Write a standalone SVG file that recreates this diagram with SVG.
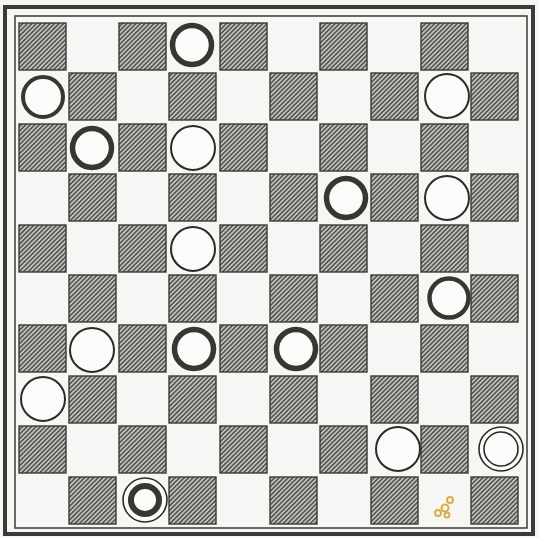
<svg xmlns="http://www.w3.org/2000/svg" width="539" height="538" viewBox="0 0 539 538">
<defs>
<pattern id="hatch" patternUnits="userSpaceOnUse" width="3.2" height="3.2" patternTransform="rotate(45)">
<rect width="3.2" height="3.2" fill="#c2c3bd"/>
<line x1="0.8" y1="0" x2="0.8" y2="3.2" stroke="#464643" stroke-width="1.4"/>
</pattern>
</defs>
<style>
.sq{fill:url(#hatch);stroke:#3a3a36;stroke-width:1.4}
.blk{fill:#fbfbf9;stroke:#363633;stroke-width:5.5}
.wht{fill:#fbfbf9;stroke:#2b2b28;stroke-width:2}
.thin{fill:none;stroke:#2b2b28;stroke-width:1.6}
</style>
<rect width="539" height="538" fill="#f6f7f5"/>
<g id="frame">
<rect x="5" y="7" width="528" height="527" fill="none" stroke="#3a3a36" stroke-width="4"/>
<rect x="15" y="16" width="512" height="512" fill="none" stroke="#3a3a36" stroke-width="1.5"/>
</g>
<g id="squares">
<rect class="sq" x="19" y="23" width="47" height="47"/><rect class="sq" x="119" y="23" width="47" height="47"/><rect class="sq" x="220" y="23" width="47" height="47"/><rect class="sq" x="320" y="23" width="47" height="47"/><rect class="sq" x="421" y="23" width="47" height="47"/>
<rect class="sq" x="69" y="73" width="47" height="47"/><rect class="sq" x="169" y="73" width="47" height="47"/><rect class="sq" x="270" y="73" width="47" height="47"/><rect class="sq" x="371" y="73" width="47" height="47"/><rect class="sq" x="471" y="73" width="47" height="47"/>
<rect class="sq" x="19" y="124" width="47" height="47"/><rect class="sq" x="119" y="124" width="47" height="47"/><rect class="sq" x="220" y="124" width="47" height="47"/><rect class="sq" x="320" y="124" width="47" height="47"/><rect class="sq" x="421" y="124" width="47" height="47"/>
<rect class="sq" x="69" y="174" width="47" height="47"/><rect class="sq" x="169" y="174" width="47" height="47"/><rect class="sq" x="270" y="174" width="47" height="47"/><rect class="sq" x="371" y="174" width="47" height="47"/><rect class="sq" x="471" y="174" width="47" height="47"/>
<rect class="sq" x="19" y="225" width="47" height="47"/><rect class="sq" x="119" y="225" width="47" height="47"/><rect class="sq" x="220" y="225" width="47" height="47"/><rect class="sq" x="320" y="225" width="47" height="47"/><rect class="sq" x="421" y="225" width="47" height="47"/>
<rect class="sq" x="69" y="275" width="47" height="47"/><rect class="sq" x="169" y="275" width="47" height="47"/><rect class="sq" x="270" y="275" width="47" height="47"/><rect class="sq" x="371" y="275" width="47" height="47"/><rect class="sq" x="471" y="275" width="47" height="47"/>
<rect class="sq" x="19" y="325" width="47" height="47"/><rect class="sq" x="119" y="325" width="47" height="47"/><rect class="sq" x="220" y="325" width="47" height="47"/><rect class="sq" x="320" y="325" width="47" height="47"/><rect class="sq" x="421" y="325" width="47" height="47"/>
<rect class="sq" x="69" y="376" width="47" height="47"/><rect class="sq" x="169" y="376" width="47" height="47"/><rect class="sq" x="270" y="376" width="47" height="47"/><rect class="sq" x="371" y="376" width="47" height="47"/><rect class="sq" x="471" y="376" width="47" height="47"/>
<rect class="sq" x="19" y="426" width="47" height="47"/><rect class="sq" x="119" y="426" width="47" height="47"/><rect class="sq" x="220" y="426" width="47" height="47"/><rect class="sq" x="320" y="426" width="47" height="47"/><rect class="sq" x="421" y="426" width="47" height="47"/>
<rect class="sq" x="69" y="477" width="47" height="47"/><rect class="sq" x="169" y="477" width="47" height="47"/><rect class="sq" x="270" y="477" width="47" height="47"/><rect class="sq" x="371" y="477" width="47" height="47"/><rect class="sq" x="471" y="477" width="47" height="47"/>
</g>
<g id="pieces">
<g id="b-r0c3"><circle class="blk" cx="192" cy="45" r="19.5"/></g>
<g id="b-r1c0"><circle class="blk" cx="43" cy="97" r="20" style="stroke-width:4"/></g>
<g id="w-r1c8"><circle class="wht" cx="447" cy="96" r="22"/></g>
<g id="b-r2c1"><circle class="blk" cx="92" cy="148" r="19.5"/></g>
<g id="w-r2c3"><circle class="wht" cx="193" cy="148" r="22"/></g>
<g id="b-r3c6"><circle class="blk" cx="346" cy="198" r="19.5"/></g>
<g id="w-r3c8"><circle class="wht" cx="447" cy="198" r="22"/></g>
<g id="w-r4c3"><circle class="wht" cx="193" cy="249" r="22"/></g>
<g id="b-r5c8"><circle class="blk" cx="449" cy="298" r="19.5" style="stroke-width:4.5"/></g>
<g id="w-r6c1"><circle class="wht" cx="92" cy="350" r="22"/></g>
<g id="b-r6c3"><circle class="blk" cx="194" cy="349" r="19.5"/></g>
<g id="b-r6c5"><circle class="blk" cx="296" cy="349" r="19.5"/></g>
<g id="w-r7c0"><circle class="wht" cx="43" cy="399" r="22"/></g>
<g id="w-r8c7"><circle class="wht" cx="398" cy="449" r="22"/></g>
<g id="wk-r8c9"><circle class="wht" cx="501" cy="449" r="22" style="stroke-width:1.6"/><circle class="thin" cx="501" cy="449" r="17"/></g>
<g id="bk-r9c2"><circle class="wht" cx="145" cy="500" r="22" style="stroke-width:1.6"/><circle class="blk" cx="145" cy="500" r="14" style="stroke-width:6"/></g>
</g>
<g id="smudge" fill="none" stroke="#d4b04a" stroke-width="2">
<circle cx="450" cy="500" r="3"/><circle cx="445" cy="508" r="3.5"/><circle cx="438" cy="513" r="3"/><circle cx="447" cy="515" r="2.5"/>
</g>
</svg>
